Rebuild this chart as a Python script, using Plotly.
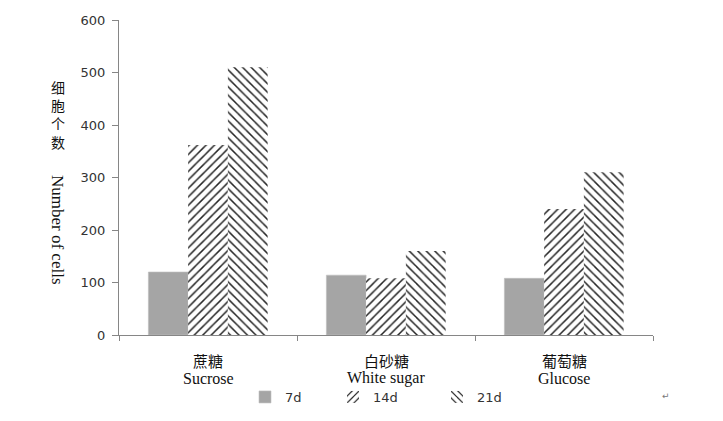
import plotly.graph_objects as go

categories_cn = ["蔗糖", "白砂糖", "葡萄糖"]
categories_en = ["Sucrose", "White sugar", "Glucose"]
series_names = ["7d", "14d", "21d"]
values_7d = [120, 114, 108]
values_14d = [362, 108, 240]
values_21d = [510, 160, 310]
y_ticks = [0, 100, 200, 300, 400, 500, 600]
ytitle_cn = "细<br>胞<br>个<br>数"
ytitle_en = "Number of cells"

# page body adds an 8px offset; compensate so the plot area lands at x 119-653, y 20-335
OFF = 8
PL, PT, PW, PH = 119, 20, 534, 315


def px(xp):
    return (xp - PL) / PW


def py(yp):
    return (PT + PH - yp) / PH


fig = go.Figure()
fig.add_trace(go.Bar(x=categories_en, y=values_7d, name=series_names[0], legend="legend",
                     marker=dict(color="#A5A5A5", line=dict(width=0.6, color="#C0C0C0"))))
fig.add_trace(go.Bar(x=categories_en, y=values_14d, name=series_names[1], legend="legend2",
                     marker=dict(color="white", line=dict(width=0),
                                 pattern=dict(shape="/", fgcolor="#262626", bgcolor="white",
                                              size=6, solidity=0.25, fillmode="replace"))))
fig.add_trace(go.Bar(x=categories_en, y=values_21d, name=series_names[2], legend="legend3",
                     marker=dict(color="white", line=dict(width=0),
                                 pattern=dict(shape="\\", fgcolor="#262626", bgcolor="white",
                                              size=6, solidity=0.25, fillmode="replace"))))

legend_font = dict(family="DejaVu Sans", size=13, color="#333")


def legend_at(xp):
    return dict(orientation="h", x=px(xp), xanchor="left", y=py(397), yanchor="middle",
                font=legend_font, itemwidth=30, bgcolor="rgba(0,0,0,0)")


fig.update_layout(
    width=723, height=421,
    margin=dict(l=PL - OFF, r=723 - (PL - OFF) - PW, t=PT - OFF,
                b=421 - (PT - OFF) - PH, autoexpand=False),
    paper_bgcolor="white", plot_bgcolor="white",
    barmode="group", bargap=0.33, bargroupgap=0,
    showlegend=True,
    legend=legend_at(245),
    legend2=legend_at(333),
    legend3=legend_at(437),
    xaxis=dict(showline=True, linecolor="#868686", linewidth=1, automargin=False,
               ticks="outside", tickcolor="#868686", ticklen=5, tickson="boundaries",
               showticklabels=False, showgrid=False),
    yaxis=dict(range=[0, 600], tickvals=y_ticks, showline=True, linecolor="#868686",
               linewidth=1, ticks="outside", tickcolor="#868686", ticklen=6, automargin=False,
               tickfont=dict(family="DejaVu Sans", size=13, color="#333"),
               ticklabelstandoff=4, showgrid=False, zeroline=False),
    font=dict(family="DejaVu Sans"),
)

# two-line category labels (Chinese above, English below)
for cn, en in zip(categories_cn, categories_en):
    fig.add_annotation(text=cn, x=en, xref="x", yref="paper", y=py(360),
                       xanchor="center", yanchor="middle", showarrow=False,
                       font=dict(family="Noto Sans CJK SC", size=15, color="#111"))
    fig.add_annotation(text=en, x=en, xref="x", yref="paper", y=py(378),
                       xanchor="center", yanchor="middle", showarrow=False,
                       font=dict(family="Liberation Serif", size=16, color="#111"))

fig.add_annotation(text=ytitle_cn, xref="paper", yref="paper",
                   x=px(58), y=py(114), xanchor="center", yanchor="middle", showarrow=False,
                   font=dict(family="Noto Sans CJK SC", size=14, color="#111"))
fig.add_annotation(text=ytitle_en, xref="paper", yref="paper", textangle=90,
                   x=px(58), y=py(230), xanchor="center", yanchor="middle", showarrow=False,
                   font=dict(family="Liberation Serif", size=17, color="#111"))
fig.add_annotation(text="↵", xref="paper", yref="paper", x=px(672), y=py(403),
                   showarrow=False, font=dict(family="DejaVu Sans", size=9, color="#777"))

fig.write_html("out.html")
